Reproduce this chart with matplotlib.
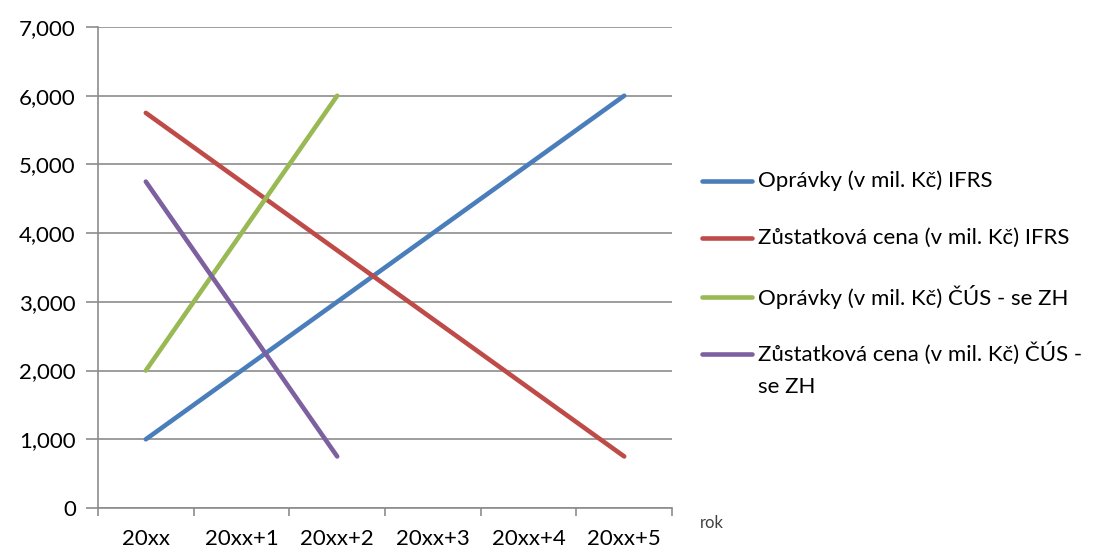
import matplotlib.pyplot as plt
from matplotlib.lines import Line2D
from matplotlib.ticker import FuncFormatter, FixedLocator, NullFormatter

plt.rcParams['font.family'] = ['Lato', 'DejaVu Sans']

# years and values (mil. Kč)
roky = ['20xx', '20xx+1', '20xx+2', '20xx+3', '20xx+4', '20xx+5']
opravky_ifrs = [1000, 2000, 3000, 4000, 5000, 6000]
zust_cena_ifrs = [5750, 4750, 3750, 2750, 1750, 750]
opravky_cus = [2000, 4000, 6000]
zust_cena_cus = [4750, 2750, 750]

nazvy = ['Oprávky (v mil. Kč) IFRS',
         'Zůstatková cena (v mil. Kč) IFRS',
         'Oprávky (v mil. Kč) ČÚS - se ZH',
         'Zůstatková cena (v mil. Kč) ČÚS -\nse ZH']
barvy = ['#4a7ebb', '#be4b48', '#98b954', '#7d60a0']
serie = [opravky_ifrs, zust_cena_ifrs, opravky_cus, zust_cena_cus]

fig = plt.figure(figsize=(11.16, 5.52), dpi=100)
ax = fig.add_axes([0.0878, 0.0797, 0.5144, 0.8714])

for hodnoty, barva, nazev in zip(serie, barvy, nazvy):
    ax.plot(range(len(hodnoty)), hodnoty, color=barva, lw=3.3, solid_capstyle='round', label=nazev)

ax.set_xlim(-0.5, len(roky) - 0.5)
ax.set_ylim(0, 7000)
ax.set_yticks(range(0, 7001, 1000))
ax.yaxis.set_major_formatter(FuncFormatter(lambda v, p: f'{int(v):,}'))
ax.grid(axis='y', color='#8c8c8c', lw=1.2)
ax.set_axisbelow(True)

# category boundaries get tick marks, labels sit between them
ax.xaxis.set_major_locator(FixedLocator([i - 0.5 for i in range(len(roky) + 1)]))
ax.xaxis.set_major_formatter(NullFormatter())
ax.xaxis.set_minor_locator(FixedLocator(range(len(roky))))
ax.set_xticklabels(roky, minor=True)
ax.tick_params(axis='x', which='major', length=6, width=1.2, color='#8c8c8c', direction='out')
ax.tick_params(axis='x', which='minor', length=0, pad=15, labelsize=16)
ax.tick_params(axis='y', length=9, width=1.2, color='#8c8c8c', pad=7, labelsize=16)

for s in ['top', 'right']:
    ax.spines[s].set_visible(False)
for s in ['left', 'bottom']:
    ax.spines[s].set_color('#8c8c8c')
    ax.spines[s].set_linewidth(1.2)

fig.text(0.627, 0.052, 'rok', fontsize=12, color='#404040', va='center')

# legend on the right
leg_y = [181, 238, 297, 354]
for barva, nazev, y in zip(barvy, nazvy, leg_y):
    fy = 1 - y / 552
    fig.add_artist(Line2D([702 / 1116, 752 / 1116], [fy, fy], color=barva, lw=3.3, solid_capstyle='round'))
    fig.text(758 / 1116, fy + (0.022 if '\n' in nazev else 0), nazev, fontsize=16,
             va='top' if '\n' in nazev else 'center', linespacing=1.72, transform=fig.transFigure)

plt.savefig('out.png', dpi=100)
